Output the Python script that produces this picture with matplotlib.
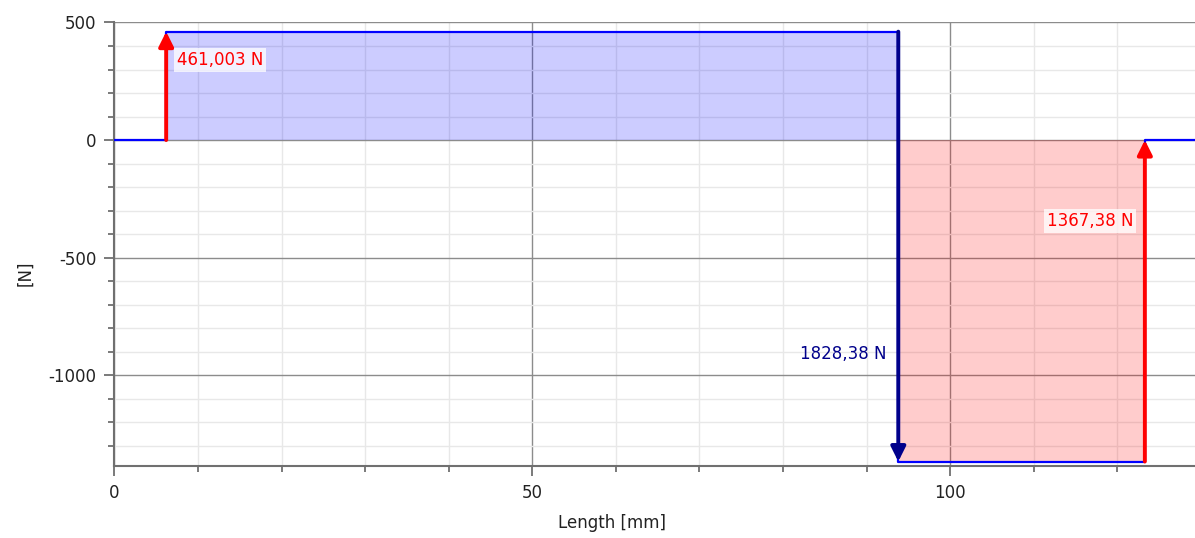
import numpy as np
import matplotlib
matplotlib.use("Agg")
from matplotlib import pyplot as plt
from matplotlib.ticker import MultipleLocator

plt.rcParams["axes.unicode_minus"] = False

# support / load positions along the shaft [mm]
x_left = 6.2
x_load = 93.8
x_right = 123.3
x_end = 129.3

# forces [N]
r_left = 461.003
f_load = 1828.38
r_right = 1367.38

label_left = "461,003 N"
label_load = "1828,38 N"
label_right = "1367,38 N"

# shear force steps
shear_x = [0, x_left, x_left, x_load, x_load, x_right, x_right, x_end]
shear_y = [0, 0, r_left, r_left, r_left - f_load, r_left - f_load, 0, 0]

fig = plt.figure(figsize=(11.95, 5.38), dpi=100)
ax = fig.add_axes([0.0957, 0.1344, 0.9043, 0.8238])

ax.set_xlim(0, x_end)
ax.set_ylim(-1385, 500)

ax.xaxis.set_major_locator(MultipleLocator(50))
ax.xaxis.set_minor_locator(MultipleLocator(10))
ax.yaxis.set_major_locator(MultipleLocator(500))
ax.yaxis.set_minor_locator(MultipleLocator(100))

ax.grid(which="major", color="#8c8c8c", lw=1.0, zorder=0)
ax.grid(which="minor", color="#e8e8e8", lw=1.0, zorder=0)
ax.set_axisbelow(True)

for s in ["top", "right"]:
    ax.spines[s].set_visible(False)
for s in ["left", "bottom"]:
    ax.spines[s].set_color("#707070")
    ax.spines[s].set_linewidth(1.5)

fs = 12
ax.tick_params(which="major", length=7, width=1.3, color="#707070",
               labelsize=fs, labelcolor="#222222", pad=6)
ax.tick_params(which="minor", length=4, width=1.3, color="#707070")

# positive and negative areas
ax.fill_between([x_left, x_load], 0, r_left, color="blue", alpha=0.2, lw=0, zorder=1)
ax.fill_between([x_load, x_right], 0, r_left - f_load, color="red", alpha=0.2, lw=0, zorder=1)

ax.plot(shear_x, shear_y, color="#0000ff", lw=1.6, zorder=3)

# force arrows
def arrow(x, y0, y1, col):
    ax.annotate("", xy=(x, y1), xytext=(x, y0),
                arrowprops=dict(arrowstyle="-|>", color=col, lw=2.8,
                                mutation_scale=22, shrinkA=0, shrinkB=0),
                zorder=4)

arrow(x_left, 0, r_left, "red")
arrow(x_load, r_left, r_left - f_load, "#00008b")
arrow(x_right, r_left - f_load, 0, "red")

box = dict(facecolor="white", alpha=0.75, edgecolor="none", pad=2)
ax.text(x_left + 1.3, 340, label_left, color="red", fontsize=fs,
        ha="left", va="center", bbox=box, zorder=5)
ax.text(x_load - 1.4, -910, label_load, color="#00008b", fontsize=fs,
        ha="right", va="center", zorder=5)
ax.text(x_right - 1.4, -345, label_right, color="red", fontsize=fs,
        ha="right", va="center", bbox=box, zorder=5)

ax.set_xlabel("Length [mm]", fontsize=fs, color="#222222")
ax.set_ylabel("[N]", fontsize=fs, color="#222222")
ax.xaxis.set_label_coords(0.4605, -0.108)
ax.yaxis.set_label_coords(-0.074, 0.435)

fig.savefig("out.png", dpi=100)
